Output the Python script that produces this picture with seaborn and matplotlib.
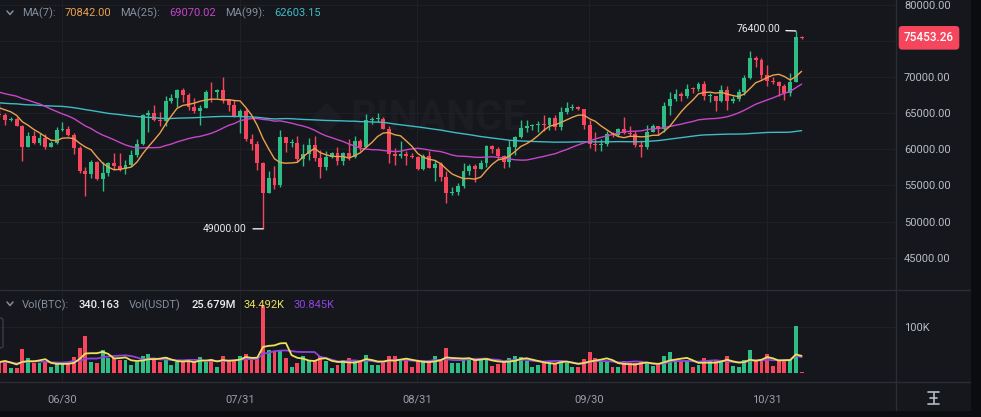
import numpy as np
import pandas as pd
import matplotlib
matplotlib.use("Agg")
import matplotlib.pyplot as plt
import matplotlib.transforms as mtransforms
from matplotlib.lines import Line2D
from matplotlib.patches import Rectangle, FancyBboxPatch
import seaborn as sns

# ---------------- data ----------------
dates = pd.date_range("2024-06-19", "2024-11-07", freq="D")

prior_closes = [
    71500, 73100, 71400, 69400, 65300, 68400, 67600, 61900, 67900, 65500, 63800, 64100, 67200, 69900, 69900, 69400, 70700, 69900, 69600, 71300,
    69700, 65500, 65900, 68500, 67800, 68900, 69400, 71600, 69100, 70600, 70000, 67100, 63900, 65700, 63400, 63800, 61300, 63500, 63800, 64900,
    64900, 66800, 66400, 64300, 64500, 63800, 63400, 63100, 63800, 60600,
    58300, 59100, 62900, 63900, 64000, 63200, 62300, 61200, 63100, 60800, 60800, 61500, 62900, 61600, 66200, 65200, 67000, 66900, 66300, 71400,
    70100, 69100, 67900, 68500, 69300, 68500, 69400, 68300, 67600, 68300, 67500,
    67700, 67800, 68800, 70500, 71100, 70800, 69300, 69300, 69600, 69500, 67300, 68200, 66700, 66000, 66200, 66600, 66500, 65150,
]

closes = [
    64960, 64830, 64100, 64260, 63180, 60280, 61810, 60860, 61610, 60320, 60890, 62680,
    62770, 62030, 60200, 57060, 56660, 58240, 55850, 56710, 58050, 57720, 57340, 57890, 59200, 60800, 64720, 65040,
    64090, 63970, 66680, 67150, 68170, 67580, 65930, 65370, 65780, 67910, 67900, 68250, 66780, 66190, 64620,
    65350, 61500, 60700, 58160, 54020, 56040, 55130, 61710, 60880, 60950, 58710, 59350, 60600, 58740, 57560, 58880,
    59490, 58430, 59440, 59010, 61160, 60380, 64090, 64180, 64250, 62830, 59420, 59030, 59370, 59120, 58970,
    57300, 59130, 57490, 57970, 56160, 53960, 54160, 54880, 57050, 57640, 57340, 58130, 60500, 60000, 59130,
    58210, 60310, 61760, 62950, 63200, 63350, 63580, 63330, 64300, 63140, 65180, 65770, 65870, 65600, 63330,
    60800, 60650, 60750, 62080, 62060, 62820, 62220, 62130, 60580, 60270, 62450, 63190, 62850, 66050, 67040,
    67610, 67420, 68380, 68360, 69000, 67370, 67380, 66680, 68160, 66640, 67010, 67930, 69910, 72720, 72340, 70280,
    69500, 69300, 68750, 67800, 69340, 75590, 75453.26,
]

highs = [
    65730, 66480, 65070, 64520, 64490, 63370, 62400, 62480, 62300, 62200, 61200, 63050,
    63860, 63290, 62290, 60500, 57550, 58480, 58380, 58240, 58300, 59470, 59530, 58530, 59850, 61420, 64900, 65390,
    66130, 65130, 67440, 67620, 68380, 68480, 67800, 67100, 66150, 68230, 69400, 68300, 70000, 66990, 66860,
    65600, 65600, 62180, 61100, 58300, 57000, 57700, 62730, 61740, 61470, 61850, 60720, 61580, 61800, 59850, 59830,
    59650, 60270, 59600, 61400, 61810, 61420, 64950, 64500, 65000, 64480, 63200, 60230, 61190, 59820, 59460,
    59060, 59400, 59810, 58520, 58320, 56990, 54850, 55300, 58090, 58040, 57990, 58600, 60670, 60650, 60390,
    59210, 61350, 61790, 64130, 64130, 63560, 64000, 64750, 64500, 64820, 65840, 66500, 66260, 66070, 65620,
    64130, 62400, 61470, 62480, 62370, 63000, 64480, 63200, 62540, 61320, 63420, 63480, 63300, 66500, 67950,
    68420, 67920, 68990, 68690, 69400, 69520, 67840, 67450, 68850, 68770, 67430, 68340, 70270, 73620, 72960, 72700,
    71630, 70000, 69430, 69000, 70580, 76400, 75650,
]

lows = [
    64660, 64500, 63380, 63930, 63180, 58400, 60280, 60710, 60580, 60030, 60400, 60780,
    62500, 61800, 59420, 56770, 53490, 56020, 55720, 54260, 56290, 57150, 57050, 56540, 57750, 59000, 60640, 62450,
    63880, 63230, 63300, 66470, 65840, 66570, 65430, 65100, 63440, 65750, 66600, 67050, 66460, 65300, 64530,
    62300, 61200, 59850, 57130, 49000, 53960, 54560, 54730, 59580, 60280, 58290, 57650, 58500, 58430, 56080, 57100,
    58790, 57850, 57850, 58600, 58790, 59720, 60340, 63570, 63790, 62800, 58100, 57860, 58750, 57780, 58760,
    57200, 57130, 57410, 55600, 55670, 52550, 53750, 53650, 54600, 56400, 55550, 57330, 57630, 59550, 58700,
    57490, 57620, 59200, 61570, 62360, 62700, 62400, 62580, 62750, 62700, 62670, 64840, 65420, 65430, 62860,
    60170, 59830, 59830, 60460, 61690, 61820, 62130, 61830, 60300, 58900, 60050, 62460, 62040, 62430, 64800,
    66750, 66700, 67080, 67850, 68100, 66840, 66600, 65260, 66570, 65520, 66460, 66710, 67520, 69760, 71430, 69690,
    68820, 69020, 67460, 66840, 67460, 69300, 75350,
]

# volume in thousand BTC
prior_volumes = [22, 25, 20, 30, 32, 14, 12, 28, 30]
volumes = [
    25, 24, 24, 10, 10, 53, 32, 21, 21, 23, 13, 21,
    21, 21, 34, 55, 81, 24, 21, 49, 32, 32, 28, 28, 18, 24, 38, 42, 28, 24, 35, 18, 24, 24, 28, 24, 35, 24, 30, 13, 38, 28, 28,
    38, 42, 28, 30, 145, 50, 47, 50, 33, 13, 22, 38, 29, 28, 38, 27, 10, 17, 28, 33, 25, 25, 40, 18, 17, 25, 37, 38, 28, 28, 12,
    25, 28, 25, 36, 25, 55, 22, 22, 33, 29, 33, 29, 29, 16, 19, 27, 33, 38, 35, 27, 12, 17, 25, 25, 22, 29, 22, 14, 12, 31,
    45, 33, 25, 25, 12, 12, 25, 22, 21, 25, 21, 15, 17, 38, 45, 31, 25, 25, 12, 17, 33, 25, 25, 25, 36, 16, 12, 29, 51, 25, 27,
    41, 15, 28, 28, 28, 102, 0.340163,
]

tick_dates = ["2024-06-30", "2024-07-31", "2024-08-31", "2024-09-30", "2024-10-31"]
tick_labels = ["06/30", "07/31", "08/31", "09/30", "10/31"]
price_ticks = [45000, 50000, 55000, 60000, 65000, 70000, 75000, 80000]

ma_legend = [("MA(7):", "70842.00"), ("MA(25):", "69070.02"), ("MA(99):", "62603.15")]
vol_legend = ["Vol(BTC):", "340.163", "Vol(USDT)", "25.679M", "34.492K", "30.845K"]
last_price_label = "75453.26"

# ---------------- style ----------------
W, H = 981, 417
sns.set_theme(style="dark")
plt.rcParams["font.family"] = ["Roboto", "DejaVu Sans"]

BG = "#15171c"
OUTER = "#0b0c0f"
GRID = "#1e2026"
SEP = "#2a2d34"
UP = "#2ebd85"
DOWN = "#f6465d"
C_MA7 = "#e9a24e"
C_MA25 = "#c646c9"
C_MA99 = "#3fbcc4"
C_VMA5 = "#ece25a"
C_VMA10 = "#8e44e0"
TXT = "#848e9c"
AXT = "#b7bdc6"


def fx(x):
    return x / W


def fy(y):
    return 1 - y / H


closes = np.array(closes, dtype=float)
highs = np.array(highs, dtype=float)
lows = np.array(lows, dtype=float)
all_closes = np.concatenate([np.array(prior_closes, float), closes])
opens = all_closes[len(prior_closes) - 1:-1]
n = len(closes)
xs = np.arange(n)

full = pd.Series(all_closes)
ma7 = full.rolling(7).mean().values[len(prior_closes):]
ma25 = full.rolling(25).mean().values[len(prior_closes):]
ma99 = full.rolling(99).mean().values[len(prior_closes):]

vol = np.array(volumes, float)
vfull = pd.Series(np.concatenate([np.array(prior_volumes, float), vol]))
vma5 = vfull.rolling(5).mean().values[len(prior_volumes):]
vma10 = vfull.rolling(10).mean().values[len(prior_volumes):]

up = closes >= opens
colors = np.where(up, UP, DOWN)

fig = plt.figure(figsize=(W / 100, H / 100), dpi=100, facecolor=BG)

# outer frame (right and bottom dark margins)
fig.patches.append(Rectangle((fx(971), 0), 1 - fx(971), 1, transform=fig.transFigure,
                             facecolor=OUTER, edgecolor="none", zorder=-1))
fig.patches.append(Rectangle((0, 0), 1, fy(411), transform=fig.transFigure,
                             facecolor=OUTER, edgecolor="none", zorder=-1))

RIGHT = 895
ax = fig.add_axes([0, fy(290), fx(RIGHT), 290 / H])
axv = fig.add_axes([0, fy(382), fx(RIGHT), 92 / H], sharex=ax)

for a in (ax, axv):
    a.set_facecolor(BG)
    for s in a.spines.values():
        s.set_visible(False)
    a.grid(True, color=GRID, linewidth=0.8)
    a.set_axisbelow(True)

# watermark (inside price axes, behind everything)
ax.text(fx(350) / fx(RIGHT), (fy(118) - fy(290)) / (290 / H), "BINANCE", transform=ax.transAxes,
        fontsize=30, fontweight="bold", color="#1b1d23", ha="left", va="center", zorder=0.5)
ax.scatter([ (326) / RIGHT ], [ (290 - 118) / 290 ], transform=ax.transAxes, marker="D", s=260,
           color="#1b1d23", linewidths=0, zorder=0.5)

# candles
ax.vlines(xs, lows, highs, colors=colors, linewidth=1.0, zorder=2)
body_lo = np.minimum(opens, closes)
body_h = np.maximum(np.abs(closes - opens), 110)
ax.bar(xs, body_h, bottom=body_lo, width=0.68, color=colors, linewidth=0, zorder=3)

# moving averages
sns.lineplot(x=xs, y=ma99, ax=ax, color=C_MA99, linewidth=1.0, legend=False, zorder=4)
sns.lineplot(x=xs, y=ma25, ax=ax, color=C_MA25, linewidth=1.0, legend=False, zorder=4)
sns.lineplot(x=xs, y=ma7, ax=ax, color=C_MA7, linewidth=1.0, legend=False, zorder=5)

# volume
axv.bar(xs, np.maximum(vol, 3), width=0.68, color=colors, linewidth=0, zorder=2)
sns.lineplot(x=xs, y=vma10, ax=axv, color=C_VMA10, linewidth=1.3, legend=False, zorder=3)
sns.lineplot(x=xs, y=vma5, ax=axv, color=C_VMA5, linewidth=1.3, legend=False, zorder=4)

# axes limits & ticks
ax.set_xlim(1.1, 157.3)
ax.set_ylim(40526, 80692)
axv.set_ylim(-19.6, 180.4)

start = dates[0]
tick_pos = [(pd.Timestamp(d) - start).days + 0.95 for d in tick_dates]
axv.set_xticks(tick_pos)
axv.set_xticklabels(tick_labels)
ax.tick_params(axis="x", labelbottom=False, length=0)
axv.tick_params(axis="x", length=0, pad=9, labelsize=8)
for lbl in axv.get_xticklabels():
    lbl.set_color("#9aa0a8")

ax.yaxis.tick_right()
ax.set_yticks(price_ticks)
# the 75000 label is hidden behind the last-price tag in the reference
ax.set_yticklabels([f"{v:.2f}" if v != 75000 else "" for v in price_ticks])
ax.tick_params(axis="y", length=0, pad=6.5, labelsize=8, labelcolor=AXT)

axv.yaxis.tick_right()
axv.set_yticks([100])
axv.set_yticklabels(["100K"])
axv.tick_params(axis="y", length=0, pad=6.5, labelsize=8, labelcolor=AXT)
for a in (ax, axv):
    a.set_xlabel("")
    a.set_ylabel("")

# high / low annotations
hi = int(np.argmax(highs))
lo = int(np.argmin(lows))
ax.annotate(f"{highs[hi]:.2f}", xy=(xs[hi], highs[hi]), xytext=(-16, 1.5), textcoords="offset pixels",
            ha="right", va="center", fontsize=7.5, color="#eaecef",
            arrowprops=dict(arrowstyle="-", color="#eaecef", lw=1, shrinkA=2, shrinkB=0), zorder=6)
ax.annotate(f"{lows[lo]:.2f}", xy=(xs[lo], lows[lo]), xytext=(-16, 0), textcoords="offset pixels",
            ha="right", va="center", fontsize=7.5, color="#eaecef",
            arrowprops=dict(arrowstyle="-", color="#eaecef", lw=1, shrinkA=2, shrinkB=0), zorder=6)

# last price tag
trans = mtransforms.blended_transform_factory(ax.transAxes, ax.transData)
ax.text(1 + 9 / RIGHT, closes[-1], last_price_label, transform=trans, ha="left", va="center",
        fontsize=8.5, color="white", fontweight="medium", clip_on=False, zorder=10,
        bbox=dict(boxstyle="round,pad=0.45,rounding_size=0.3", fc=DOWN, ec="none"))

# legends
def chevron(yc):
    fig.add_artist(Line2D([fx(7), fx(10), fx(13)], [fy(yc - 2), fy(yc + 1.5), fy(yc - 2)],
                          color=TXT, linewidth=1.1))


chevron(13)
chevron(304)
ma_pos = [(22, 65), (120, 169), (225, 274)]
for (lab, val), (xl, xv), col in zip(ma_legend, ma_pos, [C_MA7, C_MA25, C_MA99]):
    fig.text(fx(xl), fy(13), lab, fontsize=8, color=TXT, va="center", ha="left")
    fig.text(fx(xv), fy(13), val, fontsize=8, color=col, va="center", ha="left")

vpos = [22, 79, 129, 192, 244, 294]
vcols = [TXT, "#eaecef", TXT, "#eaecef", C_VMA5, C_VMA10]
vweights = ["normal", "medium", "normal", "medium", "normal", "normal"]
for t, xp, c, w in zip(vol_legend, vpos, vcols, vweights):
    fig.text(fx(xp), fy(305), t, fontsize=8, color=c, fontweight=w, va="center", ha="left")

# panel separators
fig.add_artist(Line2D([0, fx(970)], [fy(290), fy(290)], color=SEP, linewidth=1))
fig.add_artist(Line2D([0, fx(970)], [fy(382), fy(382)], color=SEP, linewidth=1))
fig.add_artist(Line2D([fx(RIGHT + 0.5), fx(RIGHT + 0.5)], [fy(0), fy(410)], color=SEP, linewidth=1))

# left collapsed button
fig.patches.append(FancyBboxPatch((fx(-10), fy(348)), 13 / W, 30 / H, transform=fig.transFigure,
                                  boxstyle="round,pad=0,rounding_size=0.004", facecolor="none",
                                  edgecolor="#3a3d45", linewidth=1))

# bottom-right scale icon
ic = "#b7bdc6"
for y0, x0, x1 in [(392, 928, 939), (404, 928, 939), (398, 930, 937)]:
    fig.add_artist(Line2D([fx(x0), fx(x1)], [fy(y0), fy(y0)], color=ic, linewidth=1.2))
fig.add_artist(Line2D([fx(933.5), fx(933.5)], [fy(393), fy(403)], color=ic, linewidth=1.2))

fig.savefig("out.png", dpi=100, facecolor=fig.get_facecolor())
